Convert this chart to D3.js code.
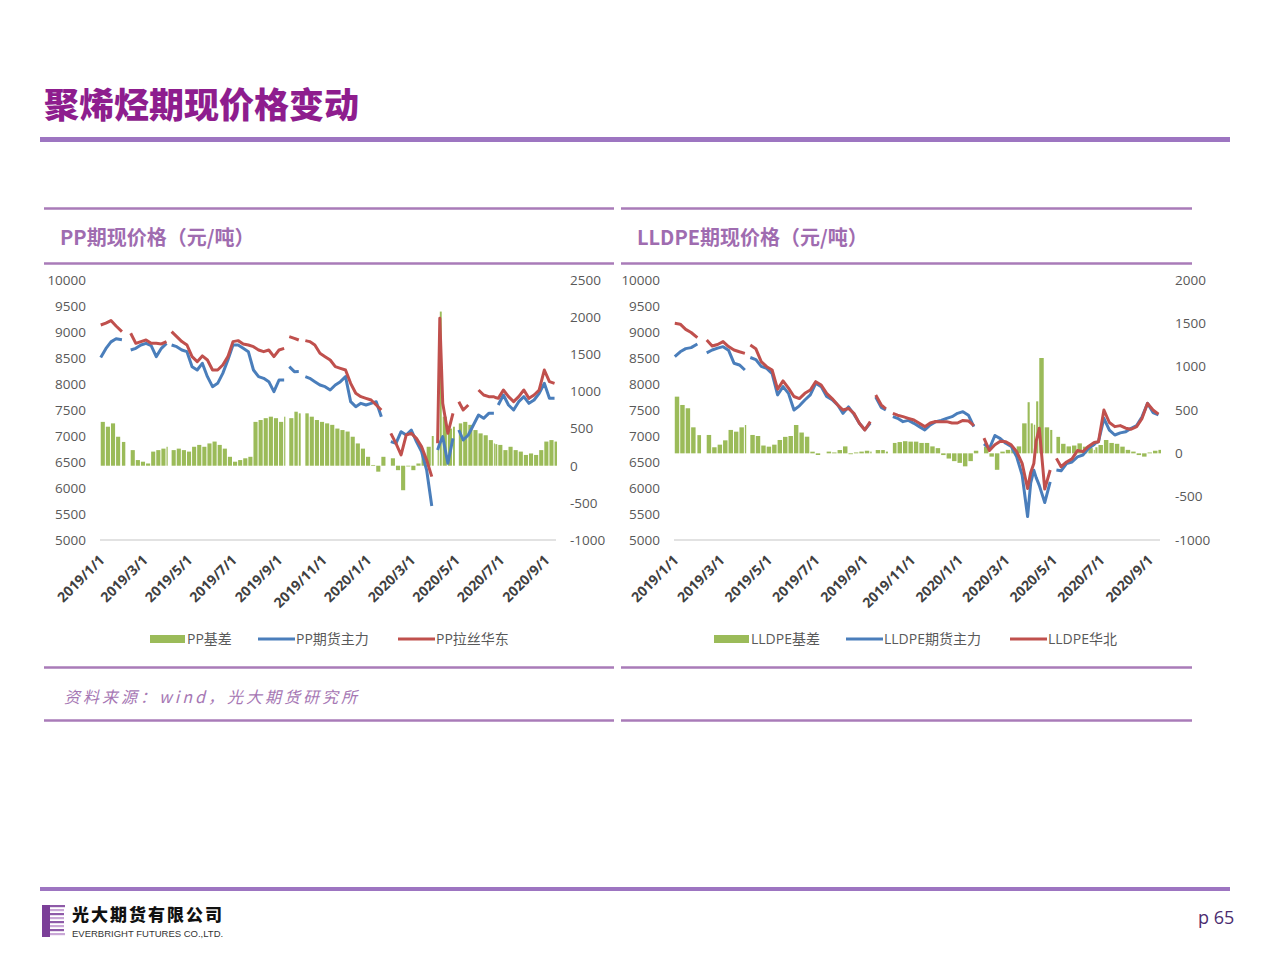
<!DOCTYPE html>
<html>
<head>
<meta charset="utf-8">
<script src="https://cdn.jsdelivr.net/npm/d3@7"></script>
<style>
    body { margin: 0; background: #fff; }
    svg text { font-family: "Open Sans", "Noto Sans CJK SC", sans-serif; }
</style>
</head>
<body>
<svg id="page" width="1280" height="960"></svg>
<script>
// ---- data (weekly readings, null = holiday gap) ----
let dates = [
    "2019-01-02","2019-01-09","2019-01-16","2019-01-23","2019-01-31","2019-02-06","2019-02-12","2019-02-19","2019-02-26","2019-03-05",
    "2019-03-12","2019-03-19","2019-03-26","2019-04-02","2019-04-05","2019-04-09","2019-04-16","2019-04-23","2019-04-30",
    "2019-05-07","2019-05-14","2019-05-21","2019-05-28","2019-06-04",
    "2019-06-11","2019-06-18","2019-06-25","2019-07-02",
    "2019-07-09","2019-07-16","2019-07-23","2019-07-30","2019-08-06","2019-08-13","2019-08-20","2019-08-27","2019-09-03","2019-09-10",
    "2019-09-13","2019-09-17","2019-09-24","2019-09-30","2019-10-04","2019-10-09","2019-10-15","2019-10-22","2019-10-29","2019-11-05",
    "2019-11-12","2019-11-19","2019-11-26","2019-12-03","2019-12-10","2019-12-17","2019-12-24","2019-12-31","2020-01-07","2020-01-14",
    "2020-01-21","2020-01-28","2020-02-03","2020-02-10","2020-02-17","2020-02-24","2020-03-02","2020-03-09","2020-03-16","2020-03-23",
    "2020-03-30","2020-04-03","2020-04-07","2020-04-10","2020-04-14","2020-04-21","2020-04-28","2020-05-02","2020-05-06","2020-05-12",
    "2020-05-19","2020-05-26","2020-06-02","2020-06-09","2020-06-16","2020-06-23","2020-06-25","2020-06-29","2020-07-06","2020-07-13",
    "2020-07-20","2020-07-27","2020-08-03","2020-08-10","2020-08-17","2020-08-24","2020-08-31","2020-09-07","2020-09-14"
];

let ppBasis = [
    590,525,570,390,320,null,210,76,54,30,
    190,210,230,255,null,210,230,210,190,
    255,280,255,300,325,
    280,230,120,54,
    76,100,120,590,615,640,660,640,590,660,
    null,640,727,705,null,705,660,615,590,570,
    550,500,480,460,390,300,230,120,10,-80,
    120,null,100,-60,-330,-10,-60,30,140,255,
    400,null,250,2075,660,500,525,null,570,590,
    550,480,435,410,345,300,290,280,210,255,
    210,190,145,165,145,210,325,345,325
];
let ppFutures = [
    8510,8680,8810,8870,8850,null,8654,8686,8750,8782,
    8740,8526,8686,8782,null,8750,8718,8654,8622,
    8333,8269,8398,8141,7949,
    8013,8205,8462,8750,
    8750,8686,8622,8269,8141,8109,8045,7853,8077,8077,
    null,8333,8237,8240,null,8141,8109,8045,7981,7949,
    7885,7981,8045,8141,7660,7564,7628,7596,7628,7660,
    7372,null,6891,6859,7083,7019,7115,6891,6699,6346,
    5654,null,6731,6859,6987,6475,6955,null,7115,6923,
    7019,7212,7404,7340,7436,7436,null,7596,7789,7596,
    7500,7660,7756,7628,7692,7821,8013,7724,7724
];
let ppSpot = [
    9135,9170,9220,9115,9006,null,8975,8782,8815,8846,
    8782,8782,8770,8815,null,9006,8910,8815,8750,
    8526,8430,8540,8462,8269,
    8269,8366,8526,8815,
    8834,8770,8750,8718,8654,8622,8654,8526,8654,8686,
    null,8910,8878,8846,null,8834,8815,8750,8590,8526,
    8462,8333,8301,8269,8013,7821,7756,7724,7692,7596,
    7500,null,7051,6859,6635,7019,7051,6955,6795,6539,
    6218,null,6859,9263,7628,7051,7436,null,7660,7500,
    7596,null,7885,7789,7756,7756,7740,7724,7885,7756,
    7660,7756,7885,7724,7789,7885,8269,8045,8013
];

let lldpeBasis = [
    654,558,520,300,210,null,212,70,100,150,
    270,250,300,327,null,212,200,90,77,
    100,154,190,200,327,
    240,192,19,-19,
    0,20,10,38,80,-10,10,20,30,20,
    null,38,38,20,null,120,130,140,135,135,
    120,120,80,60,-20,-60,-90,-110,-150,-90,
    30,null,77,-38,-190,20,40,60,80,346,
    590,346,330,600,1100,300,270,null,190,110,
    80,90,115,77,60,40,70,96,154,120,
    110,77,40,20,-20,-38,10,30,40
];
let lldpeFutures = [
    8526,8620,8680,8700,8770,null,8600,8654,8690,8718,
    8650,8400,8366,8269,null,8510,8470,8340,8300,
    8200,7790,7950,7820,7500,
    7580,7692,7790,8013,
    7950,7760,7700,7600,7436,7560,7420,7244,7120,7250,
    null,7750,7550,7500,null,7372,7340,7276,7300,7244,
    7180,7115,7212,7276,7300,7340,7372,7436,7468,7400,
    7180,null,6850,6760,7010,6950,6860,6800,6600,6250,
    5450,6100,6340,6200,6050,5720,6120,null,6346,6330,
    6470,6500,6600,6635,6760,6830,6860,6890,7340,7115,
    7019,7060,7080,7148,7200,7372,7628,7450,7404
];
let lldpeSpot = [
    9167,9150,9050,8990,8890,null,8846,8730,8760,8815,
    8720,8654,8620,8590,null,8750,8680,8430,8333,
    8269,7900,8060,7920,7760,
    7720,7821,7885,8045,
    7980,7820,7720,7600,7500,7530,7436,7244,7115,7276,
    null,7789,7600,7520,null,7436,7400,7372,7340,7308,
    7244,7180,7250,7280,7276,7276,7250,7250,7300,7290,
    7200,null,6960,6720,6830,6900,6890,6830,6700,6474,
    5990,6300,6470,6900,7150,5980,6346,null,6570,6410,
    6500,6560,6720,6700,6800,6870,6880,6891,7500,7260,
    7180,7200,7150,7130,7180,7340,7628,7500,7420
];

let leftTicks = [5000, 5500, 6000, 6500, 7000, 7500, 8000, 8500, 9000, 9500, 10000];
let ppRightTicks = [-1000, -500, 0, 500, 1000, 1500, 2000, 2500];
let lldpeRightTicks = [-1000, -500, 0, 500, 1000, 1500, 2000];
let dateTicks = ["2019-01-01","2019-03-01","2019-05-01","2019-07-01","2019-09-01","2019-11-01",
                 "2020-01-01","2020-03-01","2020-05-01","2020-07-01","2020-09-01"];

let ppNames = ["PP基差", "PP期货主力", "PP拉丝华东"];
let lldpeNames = ["LLDPE基差", "LLDPE期货主力", "LLDPE华北"];

// ---- page ----
let parseDate = d3.timeParse("%Y-%m-%d");
let svg = d3.select("#page");
let purple = "#9d75c1";
let panelLine = "#a97bb8";
let GREEN = "#9bbb59", BLUE = "#4a7ebb", RED = "#c0504d";

svg.append("text")
    .attr("x", 44).attr("y", 118)
    .style("font-family", "'Noto Sans CJK SC'")
    .style("font-size", "35px").style("font-weight", 900)
    .attr("fill", "#8e1d8e")
    .text("聚烯烃期现价格变动");
svg.append("rect").attr("x", 40).attr("y", 137).attr("width", 1190).attr("height", 5).attr("fill", purple);
svg.append("rect").attr("x", 40).attr("y", 887).attr("width", 1190).attr("height", 4).attr("fill", purple);

// panel frames
[[44, 614], [621, 1192]].forEach(p => {
    [208.5, 263.5, 667.5, 720.5].forEach(y => {
        svg.append("line").attr("x1", p[0]).attr("x2", p[1]).attr("y1", y).attr("y2", y)
            .attr("stroke", panelLine).attr("stroke-width", 2.5);
    });
});

svg.append("text").attr("x", 60).attr("y", 245)
    .style("font-family", "'Noto Sans CJK SC'").style("font-size", "20px").style("font-weight", 700)
    .attr("fill", "#9f6cb0").text("PP期现价格（元/吨）");
svg.append("text").attr("x", 637).attr("y", 245)
    .style("font-family", "'Noto Sans CJK SC'").style("font-size", "20px").style("font-weight", 700)
    .attr("fill", "#9f6cb0").text("LLDPE期现价格（元/吨）");

svg.append("text").attr("x", 64).attr("y", 703)
    .style("font-family", "'Noto Sans CJK SC'").style("font-size", "16px").style("font-style", "italic")
    .attr("letter-spacing", "3px")
    .attr("fill", "#a677b4").text("资料来源：wind，光大期货研究所");

// ---- charts ----
function drawChart(cfg) {
    let x = d3.scaleTime()
        .domain([parseDate("2019-01-01"), parseDate("2020-09-16")])
        .range([cfg.x0, cfg.x1]);
    let yL = d3.scaleLinear().domain([5000, 10000]).range([540, 280]);
    let yR = d3.scaleLinear().domain(cfg.rightDomain).range([540, 280]);

    let rows = dates.map((d, i) => ({date: parseDate(d), basis: cfg.basis[i], fut: cfg.fut[i], spot: cfg.spot[i]}));
    let g = svg.append("g");

    // basis bars, each one spans until the next reading
    rows.forEach((r, i) => {
        if (r.basis === null) return;
        let nextWeek = d3.timeDay.offset(r.date, 7);
        let end = i < rows.length - 1 ? Math.min(x(rows[i + 1].date), x(nextWeek)) : x(nextWeek);
        end = Math.min(end, cfg.x1 + 2);
        let w = Math.max(1, end - x(r.date) - 1);
        g.append("rect")
            .attr("x", x(r.date))
            .attr("width", w)
            .attr("y", Math.min(yR(0), yR(r.basis)))
            .attr("height", Math.abs(yR(r.basis) - yR(0)))
            .attr("fill", GREEN);
    });

    // bottom axis line
    g.append("line").attr("x1", cfg.x0).attr("x2", cfg.x1).attr("y1", 540).attr("y2", 540)
        .attr("stroke", "#d9d9d9").attr("stroke-width", 1.5);

    let line = key => d3.line()
        .defined(d => d[key] !== null)
        .x(d => x(d.date))
        .y(d => yL(d[key]));

    g.append("path").datum(rows).attr("d", line("fut"))
        .attr("fill", "none").attr("stroke", BLUE).attr("stroke-width", 3).attr("stroke-linejoin", "round");
    g.append("path").datum(rows).attr("d", line("spot"))
        .attr("fill", "none").attr("stroke", RED).attr("stroke-width", 3).attr("stroke-linejoin", "round");

    // axes
    let axL = g.append("g").attr("transform", `translate(${cfg.leftLabelX},0)`)
        .call(d3.axisLeft(yL).tickValues(leftTicks).tickSize(0).tickPadding(0).tickFormat(d => String(d)));
    let axR = g.append("g").attr("transform", `translate(${cfg.rightLabelX},0)`)
        .call(d3.axisRight(yR).tickValues(cfg.rightTicks).tickSize(0).tickPadding(0).tickFormat(d => String(d)));
    [axL, axR].forEach(a => {
        a.select(".domain").remove();
        a.selectAll("text").attr("fill", "#595959")
            .style("font-family", "'Open Sans'").style("font-size", "13.5px");
    });

    let axB = g.append("g").attr("transform", "translate(0,540)")
        .call(d3.axisBottom(x).tickValues(dateTicks.map(parseDate)).tickSize(0)
            .tickFormat(d3.timeFormat("%Y/%-m/%-d")));
    axB.select(".domain").remove();
    axB.selectAll("text")
        .attr("x", 0).attr("y", 0).attr("dy", 0)
        .attr("text-anchor", "end")
        .attr("transform", "translate(5,21) rotate(-45)")
        .attr("fill", "#404040")
        .style("font-family", "'Open Sans'").style("font-size", "14px").style("font-weight", 700);

    // legend
    let lg = svg.append("g").style("font-family", "'Noto Sans CJK SC'").style("font-size", "14px");
    lg.append("rect").attr("x", cfg.legend[0]).attr("y", 635).attr("width", 35).attr("height", 8).attr("fill", GREEN);
    lg.append("line").attr("x1", cfg.legend[1]).attr("x2", cfg.legend[1] + 37).attr("y1", 639).attr("y2", 639)
        .attr("stroke", BLUE).attr("stroke-width", 3);
    lg.append("line").attr("x1", cfg.legend[2]).attr("x2", cfg.legend[2] + 37).attr("y1", 639).attr("y2", 639)
        .attr("stroke", RED).attr("stroke-width", 3);
    [cfg.legend[0] + 37, cfg.legend[1] + 38, cfg.legend[2] + 38].forEach((lx, i) => {
        lg.append("text").attr("x", lx).attr("y", 644).attr("fill", "#595959").text(cfg.names[i]);
    });
}

drawChart({
    x0: 100, x1: 556, leftLabelX: 86, rightLabelX: 570,
    rightDomain: [-1000, 2500], rightTicks: ppRightTicks,
    basis: ppBasis, fut: ppFutures, spot: ppSpot,
    names: ppNames, legend: [150, 258, 398]
});
drawChart({
    x0: 674, x1: 1160, leftLabelX: 660, rightLabelX: 1175,
    rightDomain: [-1000, 2000], rightTicks: lldpeRightTicks,
    basis: lldpeBasis, fut: lldpeFutures, spot: lldpeSpot,
    names: lldpeNames, legend: [714, 846, 1010]
});

// ---- footer: logo and page number ----
let logo = svg.append("g");
logo.append("rect").attr("x", 42).attr("y", 905).attr("width", 8).attr("height", 32).attr("fill", "#7b3f98");
[0, 1, 2, 3, 4, 5, 6, 7].forEach(i => {
    logo.append("rect").attr("x", 50).attr("y", 905 + i * 4).attr("width", i % 7 === 0 ? 15 : 14)
        .attr("height", 2.2).attr("fill", i % 2 === 0 ? "#8e5aa8" : "#c9a7d6");
});
logo.append("text").attr("x", 72).attr("y", 921)
    .style("font-family", "'Noto Sans CJK SC'").style("font-size", "17px").style("font-weight", 900)
    .attr("fill", "#111").attr("letter-spacing", "2px").text("光大期货有限公司");
logo.append("text").attr("x", 72).attr("y", 937)
    .style("font-family", "'Liberation Sans'").style("font-size", "9.5px")
    .attr("fill", "#333").text("EVERBRIGHT FUTURES CO.,LTD.");

svg.append("text").attr("x", 1198).attr("y", 924)
    .style("font-family", "'Open Sans'").style("font-size", "18px")
    .attr("fill", "#4b2c6f").text("p 65");
</script>
</body>
</html>
